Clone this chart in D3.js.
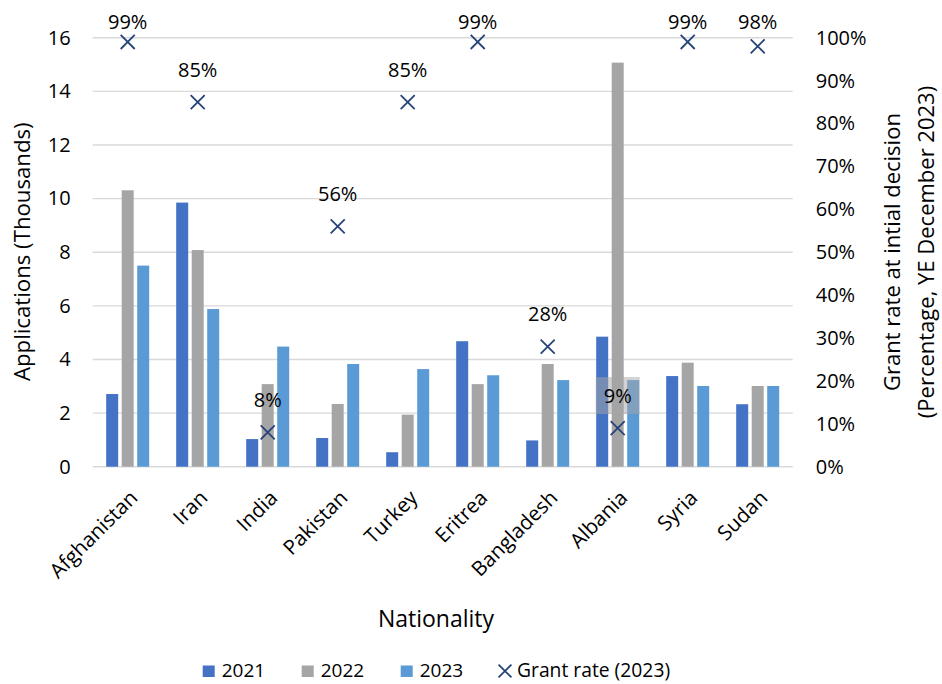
<!DOCTYPE html>
<html>
<head>
<meta charset="utf-8">
<script src="https://cdn.jsdelivr.net/npm/d3@7"></script>
<style>
  html, body { margin: 0; padding: 0; background: #fff; }
  svg { display: block; font-family: "Open Sans", sans-serif; }
</style>
</head>
<body>
<svg id="chart" width="942" height="684"></svg>
<script>
// Asylum applications by nationality (thousands) and initial-decision grant rate
const categories = ["Afghanistan", "Iran", "India", "Pakistan", "Turkey", "Eritrea", "Bangladesh", "Albania", "Syria", "Sudan"];
const apps2021 = [2.71, 9.85, 1.03, 1.07, 0.54, 4.68, 0.98, 4.85, 3.38, 2.33];
const apps2022 = [10.31, 8.08, 3.08, 2.34, 1.94, 3.08, 3.83, 15.07, 3.88, 3.01];
const apps2023 = [7.50, 5.88, 4.48, 3.83, 3.64, 3.41, 3.23, 3.23, 3.01, 3.01];
const grantRate = [99, 85, 8, 56, 85, 99, 28, 9, 99, 98];
const seriesNames = ["2021", "2022", "2023"];
const leftTicks = [0, 2, 4, 6, 8, 10, 12, 14, 16];
const rightTicks = [0, 10, 20, 30, 40, 50, 60, 70, 80, 90, 100];

const colors = { "2021": "#4472C4", "2022": "#A5A5A5", "2023": "#5B9BD5" };
const markerColor = "#264478";

const svg = d3.select("#chart");
const plot = { left: 92.7, right: 792.7, top: 37.7, bottom: 466.7 };

const x = d3.scaleBand().domain(categories).range([plot.left, plot.right]).padding(0);
const xInner = d3.scaleBand().domain(seriesNames).range([0, 43]).paddingInner(0.226).paddingOuter(0);
const y = d3.scaleLinear().domain([0, 16]).range([plot.bottom, plot.top]);
const yRight = d3.scaleLinear().domain([0, 100]).range([plot.bottom, plot.top]);

// gridlines
svg.append("g")
  .selectAll("line")
  .data(leftTicks)
  .join("line")
  .attr("x1", plot.left).attr("x2", plot.right)
  .attr("y1", d => y(d)).attr("y2", d => y(d))
  .attr("stroke", "#D9D9D9").attr("stroke-width", 1.4);

// left axis labels
const leftAxis = svg.append("g")
  .attr("transform", `translate(${plot.left},0)`)
  .call(d3.axisLeft(y).tickValues(leftTicks).tickSize(0).tickPadding(22));
leftAxis.select(".domain").remove();
leftAxis.selectAll("text").attr("font-size", 20).attr("fill", "#000").attr("font-family", "Open Sans");

// right axis labels
const rightAxis = svg.append("g")
  .attr("transform", `translate(${plot.right},0)`)
  .call(d3.axisRight(yRight).tickValues(rightTicks).tickFormat(d => d + "%").tickSize(0).tickPadding(23));
rightAxis.select(".domain").remove();
rightAxis.selectAll("text").attr("font-size", 20).attr("fill", "#000").attr("font-family", "Open Sans");

// bars
const rows = categories.map((c, i) => ({
  cat: c,
  values: [
    { key: "2021", v: apps2021[i] },
    { key: "2022", v: apps2022[i] },
    { key: "2023", v: apps2023[i] }
  ]
}));
const groupOffset = (x.bandwidth() - 43) / 2;
svg.append("g")
  .selectAll("g")
  .data(rows)
  .join("g")
  .attr("transform", d => `translate(${x(d.cat) + groupOffset},0)`)
  .selectAll("rect")
  .data(d => d.values)
  .join("rect")
  .attr("x", d => xInner(d.key))
  .attr("width", xInner.bandwidth())
  .attr("y", d => y(d.v))
  .attr("height", d => y(0) - y(d.v))
  .attr("fill", d => colors[d.key]);

// category labels, rotated
svg.append("g")
  .selectAll("text")
  .data(categories)
  .join("text")
  .attr("transform", d => `translate(${x(d) + x.bandwidth() / 2 + 6},494) rotate(-45)`)
  .attr("text-anchor", "end")
  .attr("dy", "0.35em")
  .attr("font-size", 20.5)
  .text(d => d);

// grant rate markers and labels
const pts = categories.map((c, i) => ({ cat: c, r: grantRate[i] }));
const cx = d => x(d.cat) + x.bandwidth() / 2;
const labelY = d => Math.max(22, yRight(d.r) - 32.5);

const lbl = svg.append("g");
pts.forEach(d => {
  if (d.cat === "Albania") {
    lbl.append("rect")
      .attr("x", cx(d) - 22).attr("y", labelY(d) - 18.5)
      .attr("width", 44).attr("height", 37)
      .attr("fill", "#A6A6A6").attr("fill-opacity", 0.5);
  }
});

svg.append("g")
  .selectAll("path")
  .data(pts)
  .join("path")
  .attr("transform", d => `translate(${cx(d)},${yRight(d.r)})`)
  .attr("d", d3.symbol(d3.symbolX, 130))
  .attr("fill", "none")
  .attr("stroke", markerColor)
  .attr("stroke-width", 1.8);

lbl.selectAll("text")
  .data(pts)
  .join("text")
  .attr("x", cx)
  .attr("y", labelY)
  .attr("dy", "0.35em")
  .attr("text-anchor", "middle")
  .attr("font-size", 20)
  .text(d => d.r + "%");

// axis titles
svg.append("text")
  .attr("transform", "translate(29.5,251.7) rotate(-90)")
  .attr("text-anchor", "middle")
  .attr("font-size", 22.2)
  .text("Applications (Thousands)");

const rt = svg.append("g").attr("transform", "translate(900,252) rotate(-90)");
rt.append("text").attr("x", 0).attr("y", 0).attr("text-anchor", "middle").attr("font-size", 22)
  .text("Grant rate at intial decision");
rt.append("text").attr("x", 0).attr("y", 34).attr("text-anchor", "middle").attr("font-size", 22)
  .text("(Percentage, YE December 2023)");

svg.append("text")
  .attr("x", 436).attr("y", 627)
  .attr("text-anchor", "middle")
  .attr("font-size", 23)
  .text("Nationality");

// legend
const legendItems = [
  { label: "2021", x: 202.7, type: "rect", color: colors["2021"] },
  { label: "2022", x: 301.7, type: "rect", color: colors["2022"] },
  { label: "2023", x: 400.7, type: "rect", color: colors["2023"] },
  { label: "Grant rate (2023)", x: 498, type: "x", color: markerColor }
];
const lg = svg.append("g");
legendItems.forEach(it => {
  if (it.type === "rect") {
    lg.append("rect").attr("x", it.x).attr("y", 665.5).attr("width", 12).attr("height", 11.5).attr("fill", it.color);
    lg.append("text").attr("x", it.x + 19).attr("y", 676.7).attr("font-size", 19).text(it.label);
  } else {
    lg.append("path")
      .attr("transform", `translate(${it.x + 7},671)`)
      .attr("d", d3.symbol(d3.symbolX, 110))
      .attr("fill", "none").attr("stroke", it.color).attr("stroke-width", 1.8);
    lg.append("text").attr("x", it.x + 19).attr("y", 676.7).attr("font-size", 19.3).text(it.label);
  }
});
</script>
</body>
</html>
